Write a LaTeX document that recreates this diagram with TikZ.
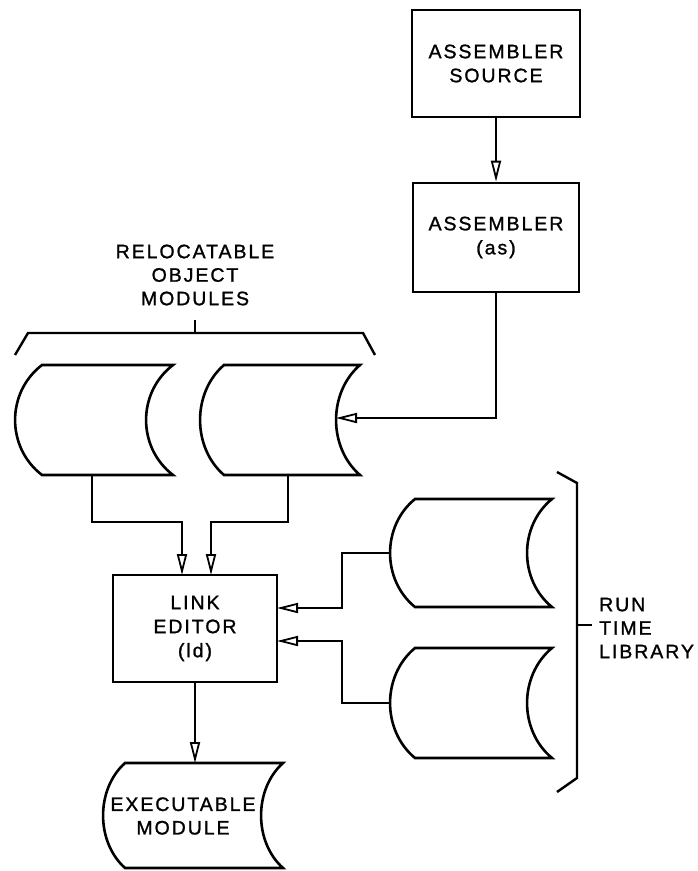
\documentclass[tikz,border=0pt]{standalone}
\usepackage{fontspec}
\setmainfont{Liberation Sans}[LetterSpace=10,FakeBold=1.2]
\usetikzlibrary{arrows.meta}
\newcommand\tapeshape[5]{%
  \draw[tape] (#1,#3) -- (#2,#3)
    .. controls ({#2-1.33*#5},{#3+0.25*(#4-#3)}) and ({#2-1.33*#5},{#4-0.25*(#4-#3)}) .. (#2,#4)
    -- (#1,#4)
    .. controls ({#1-1.33*#5},{#4-0.25*(#4-#3)}) and ({#1-1.33*#5},{#3+0.25*(#4-#3)}) .. (#1,#3) -- cycle;}
\begin{document}
\begin{tikzpicture}[x=1pt,y=-1pt,
  box/.style={draw, line width=2.6pt, inner sep=0pt, align=center, font=\fontsize{19.5}{24}\selectfont},
  lbl/.style={align=center, inner sep=0pt, font=\fontsize{19.5}{23.5}\selectfont},
  conn/.style={line width=2.2pt, -{Triangle[open,length=21pt,width=10pt,line width=1.8pt]}},
  tape/.style={draw, line width=2.6pt, line join=miter},
  brace/.style={line width=2.4pt}]
\useasboundingbox (0,0) rectangle (697,871);

% boxes
\node[box, minimum width=168pt, minimum height=107pt] (src) at (496,63.5) {ASSEMBLER\\SOURCE};
\node[box, minimum width=166pt, minimum height=109pt] (asm) at (496,237.5) {ASSEMBLER\\(as)};
\node[box, minimum width=164pt, minimum height=107pt] (ld) at (195,628.5) {LINK\\EDITOR\\(ld)};

% tapes
\tapeshape{42}{173}{365}{475}{27}
\tapeshape{224}{360}{365}{475}{24}
\tapeshape{415}{552}{499}{607}{25}
\tapeshape{415}{552}{648}{758}{25}
\tapeshape{125}{283}{763}{868}{22}

\coordinate (aBot) at (92,475);
\coordinate (bBot) at (288,475);
\coordinate (bIn) at (336,418);
\coordinate (cL) at (390,553);
\coordinate (dL) at (390,703);
\coordinate (ldInA) at (182,575);
\coordinate (ldInB) at (211,575);
\coordinate (ldInC) at (277,608);
\coordinate (ldInD) at (277,641);
\coordinate (exTop) at (195,763);

% labels
\node[lbl] (rom) at (195,275) {RELOCATABLE\\OBJECT\\MODULES};
\node[lbl, align=left, anchor=west] (rtl) at (599,628) {RUN\\TIME\\LIBRARY};
\node[lbl] (exe) at (183,816) {EXECUTABLE\\MODULE};

% connectors
\draw[conn] (src.south) -- (asm.north);
\draw[conn] (asm.south) |- (bIn);
\draw[conn] (aBot) -- ++(0,47) -| (ldInA);
\draw[conn] (bBot) -- ++(0,47) -| (ldInB);
\draw[conn] (cL) -- ++(-48,0) |- (ldInC);
\draw[conn] (dL) -- ++(-48,0) |- (ldInD);
\draw[conn] (ld.south) -- (exTop);

% brackets
\draw[brace] (15,355) -- (28,333) -- (363,333) -- (375,355);
\draw[brace] (195,333) -- (195,320);
\draw[brace] (557,472) -- (577,483) -- (577,778) -- (557,792);
\draw[brace] (577,625) -- (592,625);
\end{tikzpicture}
\end{document}
